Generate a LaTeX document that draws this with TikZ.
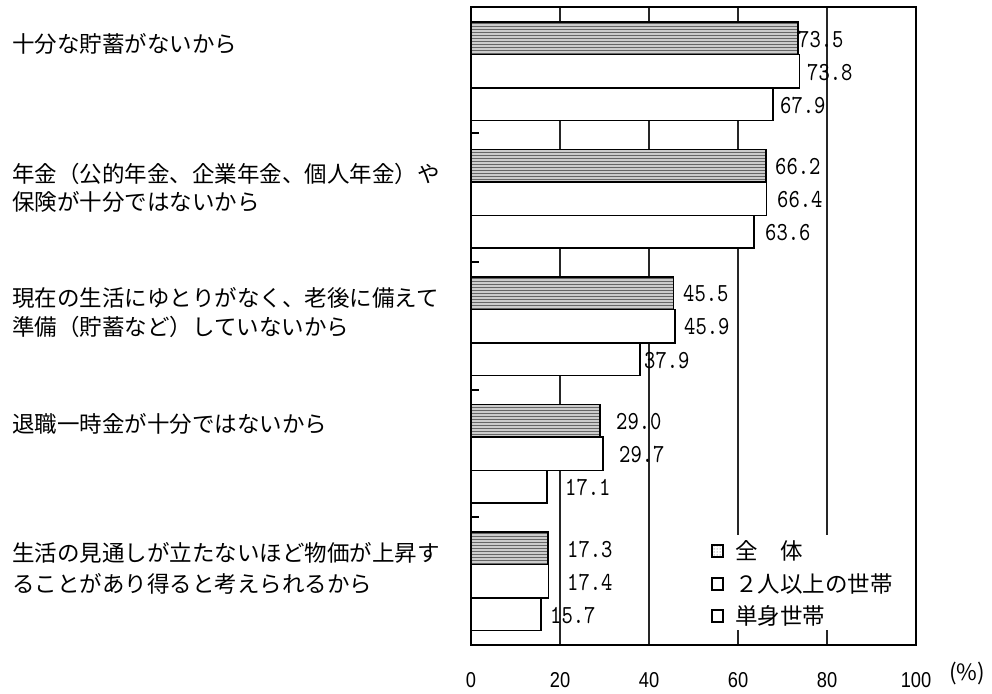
\documentclass[tikz,border=0pt]{standalone}
\usepackage{fontspec}
\usetikzlibrary{patterns}
\newfontfamily\jpfont{Noto Sans CJK JP}
\newfontfamily\valfont[FakeStretch=0.83]{lmmono10-regular.otf}
\newfontfamily\axfont[FakeStretch=0.85]{Liberation Sans}
\tikzset{
  cat/.style={anchor=west, inner sep=0pt, font=\jpfont\fontsize{22.5}{27}\selectfont},
  val/.style={anchor=west, inner sep=0pt, font=\valfont\fontsize{26}{28}\selectfont},
  axlab/.style={anchor=center, inner sep=0pt, font=\axfont\fontsize{21.5}{24}\selectfont},
  grid line/.style={line width=1.2pt, black!85},
  barwhite/.style={draw=black, line width=1.8pt, fill=white},
  barall/.style={draw=black, line width=1.8pt, preaction={fill=gray!40}, pattern=horizontal lines, pattern color=black!60},
  legbox/.style={draw=black, line width=1.7pt, fill=white, minimum size=11.5pt, inner sep=0pt},
}
\begin{document}
\begin{tikzpicture}[x=1pt,y=-1pt]
\fill[white] (0,0) rectangle (992,693);
\useasboundingbox (0,0) rectangle (992,693);
% grid lines
\foreach \v in {20,40,60,80}{
  \draw[grid line] ({471+4.45*\v},7) -- ({471+4.45*\v},645);
}
% left separator ticks
\foreach \yy in {133,262,390,517}{
  \draw[line width=1.2pt] (471,\yy) -- (479,\yy);
}
% bars and value labels
\foreach \i/\a/\b/\c/\la/\lb/\lc in {
  0/73.5/73.8/67.9/798/807/780,
  1/66.2/66.4/63.6/775/777/765,
  2/45.5/45.9/37.9/683/684/644,
  3/29.0/29.7/17.1/616/619/565,
  4/17.3/17.4/15.7/567/567/550}{
  \pgfmathsetmacro\tp{22+127.5*\i}
  \draw[barall] (471,\tp) rectangle ({471+4.45*\a},\tp+32.5);
  \draw[barwhite] (471,\tp+32.5) rectangle ({471+4.45*\b},\tp+66);
  \draw[barwhite] (471,\tp+66) rectangle ({471+4.45*\c},\tp+98.5);
  \node[val] (va\i) at (\la,\tp+17) {\a};
  \node[val] (vb\i) at (\lb,\tp+50) {\b};
  \node[val] (vc\i) at (\lc,\tp+83) {\c};
}
% frame
\draw[line width=1.8pt] (471,7) rectangle (916,645);
% category labels
\node[cat] (c1) at (12,44) {十分な貯蓄がないから};
\node[cat] (c2a) at (12,174) {年金（公的年金、企業年金、個人年金）や};
\node[cat] (c2b) at (12,202) {保険が十分ではないから};
\node[cat] (c3a) at (12,298) {現在の生活にゆとりがなく、老後に備えて};
\node[cat] (c3b) at (12,327) {準備（貯蓄など）していないから};
\node[cat] (c4) at (12,424) {退職一時金が十分ではないから};
\node[cat] (c5a) at (12,553) {生活の見通しが立たないほど物価が上昇す};
\node[cat] (c5b) at (12,584) {ることがあり得ると考えられるから};
% legend
\fill[white] (706,535) rectangle (902,630);
\node[legbox, pattern=dots, pattern color=black!70] (lb1) at (717.5,551) {};
\node[legbox] (lb2) at (717.5,584) {};
\node[legbox] (lb3) at (717.5,616) {};
\node[cat] (lt1) at (735,551) {全　体};
\node[cat] (lt2) at (735,584) {２人以上の世帯};
\node[cat] (lt3) at (735,616) {単身世帯};
% axis labels
\foreach \v in {0,20,40,60,80,100}{
  \node[axlab] (ax\v) at ({471+4.45*\v},680) {\v};
}
\node[cat, anchor=center] (pct) at (967,673) {(\%)};
\end{tikzpicture}
\end{document}
